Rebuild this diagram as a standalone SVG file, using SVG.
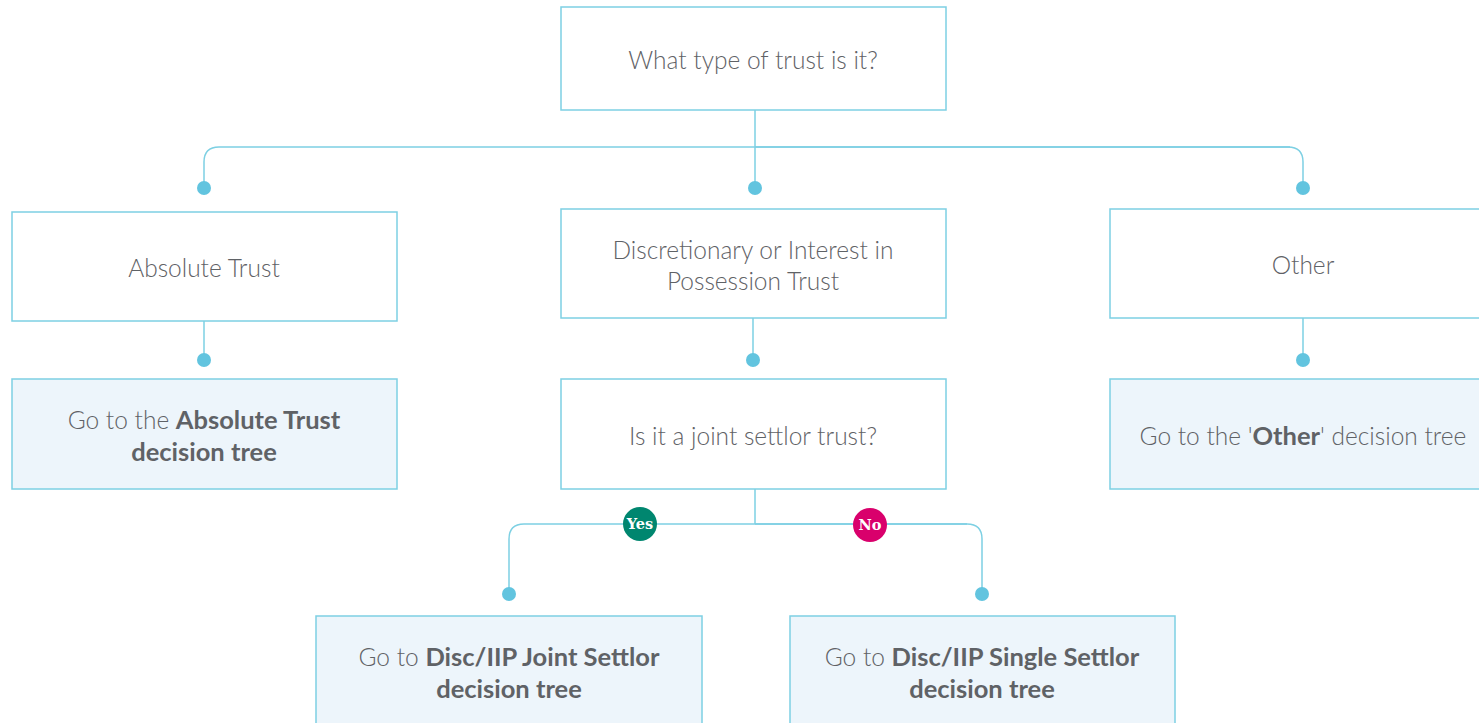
<svg xmlns="http://www.w3.org/2000/svg" width="1479" height="723" viewBox="0 0 1479 723">
<style>
.box{fill:#ffffff;stroke:#7dd0e3;stroke-width:1.5}
.goto{fill:#edf5fb;stroke:#7dd0e3;stroke-width:1.5}
.t{font-family:Lato,"Open Sans",sans-serif;font-weight:300;font-size:24.5px;fill:#5f6266;text-anchor:middle}
.b{font-weight:700;font-size:25.5px}
.ln{fill:none;stroke:#7dd0e3;stroke-width:1.5}
.dot{fill:#62c4df}
.yn{font-family:"DejaVu Serif",serif;font-weight:700;font-size:14.5px;fill:#ffffff;text-anchor:middle}
</style>
<rect width="1479" height="723" fill="#ffffff"/>
<g id="connectors">
<path class="ln" d="M755 110 V187"/>
<path class="ln" d="M1290 147 H219 Q204 147 204 162 V187"/>
<path class="ln" d="M755 147 H1288 Q1303 147 1303 162 V187"/>
<path class="ln" d="M204 321 V360"/>
<path class="ln" d="M753 318 V360"/>
<path class="ln" d="M1303 318 V360"/>
<path class="ln" d="M755 489 V524"/>
<path class="ln" d="M967 524 H524 Q509 524 509 539 V594"/>
<path class="ln" d="M755 524 H967 Q982 524 982 539 V594"/>
<circle class="dot" cx="204" cy="188" r="7"/>
<circle class="dot" cx="755" cy="188" r="7"/>
<circle class="dot" cx="1303" cy="188" r="7"/>
<circle class="dot" cx="204" cy="360" r="7"/>
<circle class="dot" cx="753" cy="360" r="7"/>
<circle class="dot" cx="1303" cy="360" r="7"/>
<circle class="dot" cx="509" cy="594" r="7"/>
<circle class="dot" cx="982" cy="594" r="7"/>
<g id="yes"><circle cx="640" cy="524" r="17" fill="#00866f"/><text class="yn" x="640" y="529">Yes</text></g>
<g id="no"><circle cx="870" cy="525" r="17" fill="#d9006c"/><text class="yn" x="870" y="530">No</text></g>
</g>
<g id="n-top"><rect class="box" x="561" y="7" width="385" height="103"/><text class="t" x="753" y="69">What type of trust is it?</text></g>
<g id="n-absolute"><rect class="box" x="12" y="212" width="385" height="109"/><text class="t" x="204" y="277">Absolute Trust</text></g>
<g id="n-disc"><rect class="box" x="561" y="209" width="385" height="109"/><text class="t" x="753" y="259">Discretionary or Interest in</text><text class="t" x="753" y="290">Possession Trust</text></g>
<g id="n-other"><rect class="box" x="1110" y="209" width="375" height="109"/><text class="t" x="1303" y="274">Other</text></g>
<g id="n-goto-absolute"><rect class="goto" x="12" y="379" width="385" height="110"/><text class="t" x="204" y="429">Go to the <tspan class="b">Absolute Trust</tspan></text><text class="t b" x="204" y="461">decision tree</text></g>
<g id="n-joint"><rect class="box" x="561" y="379" width="385" height="110"/><text class="t" x="753" y="445">Is it a joint settlor trust?</text></g>
<g id="n-goto-other"><rect class="goto" x="1110" y="379" width="375" height="110"/><text class="t" x="1303" y="445">Go to the '<tspan class="b">Other</tspan>' decision tree</text></g>
<g id="n-goto-jointsettlor"><rect class="goto" x="316" y="616" width="386" height="115"/><text class="t" x="509" y="666">Go to <tspan class="b">Disc/IIP Joint Settlor</tspan></text><text class="t b" x="509" y="698">decision tree</text></g>
<g id="n-goto-singlesettlor"><rect class="goto" x="790" y="616" width="385" height="115"/><text class="t" x="982" y="666">Go to <tspan class="b">Disc/IIP Single Settlor</tspan></text><text class="t b" x="982" y="698">decision tree</text></g>
</svg>
